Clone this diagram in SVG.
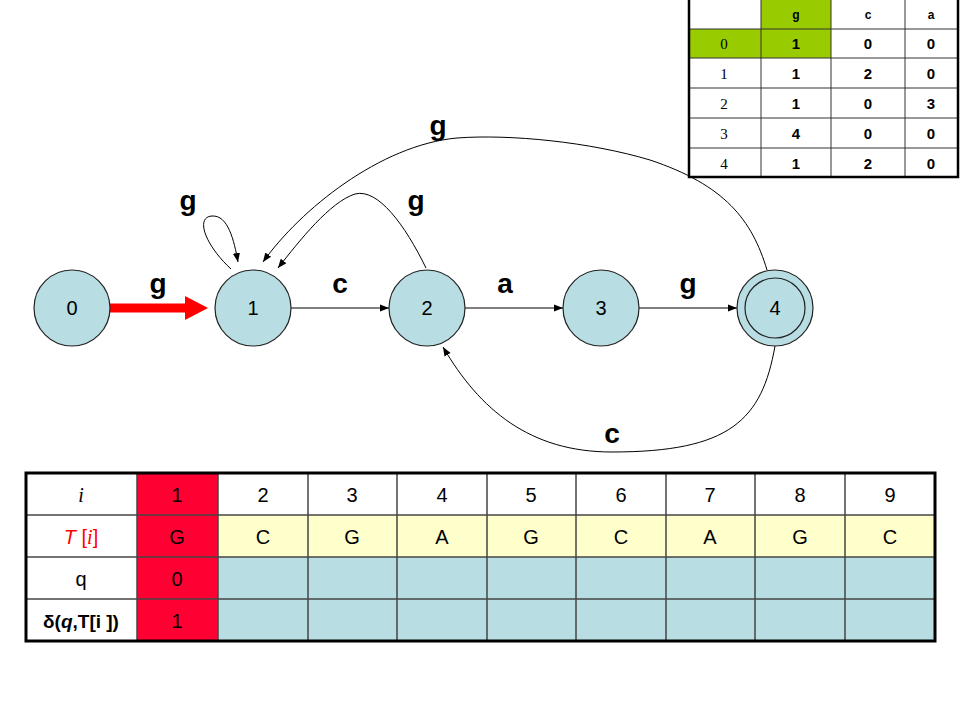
<svg xmlns="http://www.w3.org/2000/svg" width="960" height="720" viewBox="0 0 960 720">
<defs>
<marker id="ah" viewBox="0 0 10 10" refX="10" refY="5" markerWidth="9" markerHeight="9" markerUnits="userSpaceOnUse" orient="auto">
<path d="M0,1 L10,5 L0,9 z" fill="#000"/>
</marker>
<style>
.node circle{fill:#B8DDE2;stroke:#222;stroke-width:1.2}
.nl{font-family:"Liberation Sans",Arial,sans-serif;font-size:20px;text-anchor:middle;fill:#000}
.el{font-family:"Liberation Sans",Arial,sans-serif;font-size:28px;font-weight:bold;text-anchor:middle;fill:#000}
.edge{fill:none;stroke:#000;stroke-width:1;marker-end:url(#ah)}
.tt{font-family:"Liberation Sans",Arial,sans-serif;font-size:15px;font-weight:bold;text-anchor:middle}
.th{font-family:"Liberation Sans",Arial,sans-serif;font-size:12px;font-weight:bold;text-anchor:middle}
.ts{font-family:"Liberation Serif","Times New Roman",serif;font-size:15px;text-anchor:middle}
.grid{stroke:#333;stroke-width:1}
.bt{font-family:"Liberation Sans",Arial,sans-serif;font-size:20px;text-anchor:middle;fill:#000}
</style>
</defs>
<rect width="960" height="720" fill="#fff"/>

<!-- connectors -->
<g id="connectors">
<line x1="110" y1="308" x2="188" y2="308" stroke="#FF0000" stroke-width="9"/>
<path d="M185,296 L208,308 L185,320 z" fill="#FF0000"/>
<line class="edge" x1="291" y1="308" x2="389" y2="308"/>
<line class="edge" x1="465" y1="308" x2="563" y2="308"/>
<line class="edge" x1="639" y1="308" x2="737" y2="308"/>
<path class="edge" d="M231,269 C 205,245 195,217 212,216 C 228,215 234,240 238,262"/>
<path class="edge" d="M426,268 C 405,225 378,188 355,194 C 330,202 300,240 278,268"/>
<path class="edge" d="M767,270 C 752,220 725,185 650,160 C 590,142 510,134 457,138 C 380,145 300,210 263,262"/>
<path class="edge" d="M775,346 C 762,420 730,452 612,452 C 530,452 480,410 443,347"/>
</g>

<!-- top-right transition table -->
<g id="ttable">
<rect x="688" y="0" width="272" height="178" fill="#fff"/>
<rect x="761" y="0" width="70" height="29" fill="#99CC00"/>
<rect x="688" y="29" width="143" height="29" fill="#99CC00"/>
<g class="grid">
<line x1="761" y1="0" x2="761" y2="178"/>
<line x1="831" y1="0" x2="831" y2="178"/>
<line x1="905" y1="0" x2="905" y2="178"/>
<line x1="688" y1="29" x2="958" y2="29"/>
<line x1="688" y1="58" x2="958" y2="58"/>
<line x1="688" y1="88" x2="958" y2="88"/>
<line x1="688" y1="118" x2="958" y2="118"/>
<line x1="688" y1="148" x2="958" y2="148"/>
</g>
<path d="M689,0 V177 H958 V0" fill="none" stroke="#000" stroke-width="2.5"/>
<text class="th" x="796" y="19">g</text>
<text class="th" x="868" y="19">c</text>
<text class="th" x="931" y="19">a</text>
<text class="ts" x="724" y="49">0</text>
<text class="ts" x="724" y="79">1</text>
<text class="ts" x="724" y="109">2</text>
<text class="ts" x="724" y="139">3</text>
<text class="ts" x="724" y="169">4</text>
<text class="tt" x="796" y="49">1</text><text class="tt" x="868" y="49">0</text><text class="tt" x="931" y="49">0</text>
<text class="tt" x="796" y="79">1</text><text class="tt" x="868" y="79">2</text><text class="tt" x="931" y="79">0</text>
<text class="tt" x="796" y="109">1</text><text class="tt" x="868" y="109">0</text><text class="tt" x="931" y="109">3</text>
<text class="tt" x="796" y="139">4</text><text class="tt" x="868" y="139">0</text><text class="tt" x="931" y="139">0</text>
<text class="tt" x="796" y="169">1</text><text class="tt" x="868" y="169">2</text><text class="tt" x="931" y="169">0</text>
</g>

<g id="labels">
<text class="el" x="158" y="293">g</text>
<text class="el" x="340" y="293">c</text>
<text class="el" x="505" y="293">a</text>
<text class="el" x="688" y="293">g</text>
<text class="el" x="188" y="210">g</text>
<text class="el" x="416" y="210">g</text>
<text class="el" x="438" y="135">g</text>
<text class="el" x="612" y="443">c</text>
</g>

<g id="n0" class="node"><circle cx="72" cy="308" r="38"/><text class="nl" x="72" y="315">0</text></g>
<g id="n1" class="node"><circle cx="253" cy="308" r="38"/><text class="nl" x="253" y="315">1</text></g>
<g id="n2" class="node"><circle cx="427" cy="308" r="38"/><text class="nl" x="427" y="315">2</text></g>
<g id="n3" class="node"><circle cx="601" cy="308" r="38"/><text class="nl" x="601" y="315">3</text></g>
<g id="n4" class="node"><circle cx="775" cy="308" r="38"/><circle cx="775" cy="308" r="30"/><text class="nl" x="775" y="315">4</text></g>

<!-- bottom table -->
<g id="btable">
<rect x="137" y="473" width="81" height="168" fill="#FF0033"/>
<rect x="218" y="515" width="717" height="42" fill="#FFFFCC"/>
<rect x="218" y="557" width="717" height="84" fill="#B8DDE2"/>
<g stroke="#444" stroke-width="1.5">
<line x1="137" y1="473" x2="137" y2="641"/>
<line x1="218" y1="473" x2="218" y2="641"/>
<line x1="308" y1="473" x2="308" y2="641"/>
<line x1="397" y1="473" x2="397" y2="641"/>
<line x1="487" y1="473" x2="487" y2="641"/>
<line x1="576" y1="473" x2="576" y2="641"/>
<line x1="666" y1="473" x2="666" y2="641"/>
<line x1="755" y1="473" x2="755" y2="641"/>
<line x1="845" y1="473" x2="845" y2="641"/>
<line x1="26" y1="515" x2="935" y2="515"/>
<line x1="26" y1="557" x2="935" y2="557"/>
<line x1="26" y1="599" x2="935" y2="599"/>
</g>
<rect x="26" y="473" width="909" height="168" fill="none" stroke="#000" stroke-width="3"/>
<text x="81" y="502" font-family="'Liberation Serif','Times New Roman',serif" font-style="italic" font-size="20" text-anchor="middle">i</text>
<text x="81" y="544" font-size="20" text-anchor="middle" fill="#FF0000"><tspan font-family="'Liberation Sans',Arial,sans-serif" font-style="italic">T</tspan><tspan font-family="'Liberation Sans',Arial,sans-serif"> [</tspan><tspan font-family="'Liberation Serif','Times New Roman',serif" font-style="italic">i</tspan><tspan font-family="'Liberation Sans',Arial,sans-serif">]</tspan></text>
<text class="bt" x="81" y="586">q</text>
<text x="81" y="628" font-family="'Liberation Sans',Arial,sans-serif" font-weight="bold" font-size="19" text-anchor="middle">δ(<tspan font-style="italic">q</tspan>,T[i ])</text>
<text class="bt" x="177" y="502">1</text>
<text class="bt" x="263" y="502">2</text>
<text class="bt" x="352" y="502">3</text>
<text class="bt" x="442" y="502">4</text>
<text class="bt" x="531" y="502">5</text>
<text class="bt" x="621" y="502">6</text>
<text class="bt" x="710" y="502">7</text>
<text class="bt" x="800" y="502">8</text>
<text class="bt" x="890" y="502">9</text>
<text class="bt" x="177" y="544">G</text>
<text class="bt" x="263" y="544">C</text>
<text class="bt" x="352" y="544">G</text>
<text class="bt" x="442" y="544">A</text>
<text class="bt" x="531" y="544">G</text>
<text class="bt" x="621" y="544">C</text>
<text class="bt" x="710" y="544">A</text>
<text class="bt" x="800" y="544">G</text>
<text class="bt" x="890" y="544">C</text>
<text class="bt" x="177" y="586">0</text>
<text class="bt" x="177" y="628">1</text>
</g>
</svg>
